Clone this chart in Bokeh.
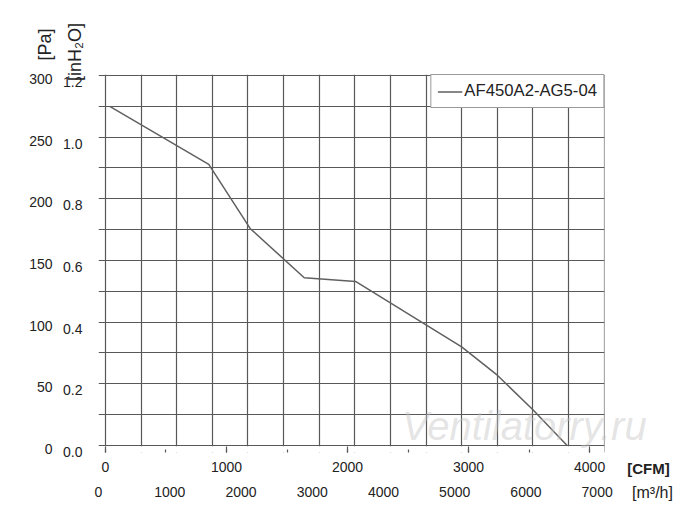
import math
from bokeh.plotting import figure
from bokeh.models import (Range1d, LinearAxis, FixedTicker, SingleIntervalTicker,
                          PrintfTickFormatter, Label, BoxAnnotation)
from bokeh.embed import file_html
from bokeh.resources import INLINE

# ---- data ----
flow_m3h = [60, 1450, 2030, 2790, 3510, 5000, 5500, 6000, 6480]
pressure_pa = [275, 228, 176, 136, 133, 80, 57, 29, 0]
series_name = "AF450A2-AG5-04"

pa_ticks = [0, 50, 100, 150, 200, 250, 300]
inh2o_ticks = [0.0, 0.2, 0.4, 0.6, 0.8, 1.0, 1.2]
cfm_ticks_interval = 1000
m3h_ticks_interval = 1000
M3H_PER_CFM = 1.699

FONT = "Liberation Sans"
TXT = "#222222"
GRID = "#585858"

p = figure(width=684, height=515,
           x_range=Range1d(-98, 7005), y_range=Range1d(-5.676, 300.81),
           output_backend="svg", toolbar_location=None,
           x_axis_location=None, y_axis_location=None,
           min_border_left=98, min_border_right=80,
           min_border_top=74, min_border_bottom=63)
p.outline_line_color = None
p.background_fill_color = "white"
p.border_fill_color = "white"

p.xgrid.ticker = SingleIntervalTicker(interval=500, num_minor_ticks=0)
p.ygrid.ticker = SingleIntervalTicker(interval=25, num_minor_ticks=0)
p.xgrid.grid_line_color = GRID
p.ygrid.grid_line_color = GRID
p.xgrid.grid_line_width = 1.2
p.ygrid.grid_line_width = 1.2

# hide the grid below the zero line (frame reaches down to the tick ends)
p.add_layout(BoxAnnotation(top=-0.6, fill_color="white", fill_alpha=1.0,
                           line_color=None, level="underlay"))

p.extra_y_ranges = {"inh2o": Range1d(-0.00162, 1.22433),
                    "pa_lab": Range1d(-2.838, 303.65)}
p.extra_x_ranges = {"cfm": Range1d(-98 / M3H_PER_CFM, 7005 / M3H_PER_CFM),
                    "m3h": Range1d(0, 7103)}


def style_labels_only(ax, standoff):
    ax.axis_line_color = None
    ax.major_tick_line_color = None
    ax.minor_tick_line_color = None
    ax.major_tick_out = 0
    ax.major_tick_in = 0
    ax.minor_tick_out = 0
    ax.minor_tick_in = 0
    ax.major_label_standoff = standoff
    ax.major_label_text_font = FONT
    ax.major_label_text_font_size = "14px"
    ax.major_label_text_color = TXT


ax_in = LinearAxis(y_range_name="inh2o", ticker=FixedTicker(ticks=inh2o_ticks),
                   formatter=PrintfTickFormatter(format="%.1f"))
style_labels_only(ax_in, 16)
p.add_layout(ax_in, "left")

ax_pa = LinearAxis(y_range_name="pa_lab", ticker=FixedTicker(ticks=pa_ticks))
style_labels_only(ax_pa, 8)
p.add_layout(ax_pa, "left")

ax_cfm = LinearAxis(x_range_name="cfm",
                    ticker=SingleIntervalTicker(interval=cfm_ticks_interval, num_minor_ticks=2))
ax_cfm.axis_line_color = None
ax_cfm.major_tick_line_color = GRID
ax_cfm.minor_tick_line_color = GRID
ax_cfm.major_tick_line_width = 1.2
ax_cfm.minor_tick_line_width = 1.2
ax_cfm.major_tick_out = 0
ax_cfm.major_tick_in = 6
ax_cfm.minor_tick_out = 0
ax_cfm.minor_tick_in = 3
ax_cfm.major_label_standoff = 9
ax_cfm.major_label_text_font = FONT
ax_cfm.major_label_text_font_size = "14px"
ax_cfm.major_label_text_color = TXT
p.add_layout(ax_cfm, "below")

ax_m3 = LinearAxis(x_range_name="m3h",
                   ticker=SingleIntervalTicker(interval=m3h_ticks_interval, num_minor_ticks=0))
style_labels_only(ax_m3, 12)
p.add_layout(ax_m3, "below")

# curve
p.line(flow_m3h, pressure_pa, line_color="#606060", line_width=1.5,
       legend_label=series_name)

lg = p.legend[0]
lg.location = "top_right"
lg.margin = 0
lg.padding = 6
lg.glyph_width = 25
lg.glyph_height = 11
lg.label_height = 11
lg.label_standoff = 2
lg.border_line_color = "#333333"
lg.border_line_width = 1.2
lg.background_fill_color = "white"
lg.background_fill_alpha = 1.0
lg.label_text_font = FONT
lg.label_text_font_size = "16.7px"
lg.label_text_color = TXT


# texts outside the frame live in side panels (not clipped there)
def lab(place, x, y, text, size, angle=0.0, style="normal", color=TXT,
        level="annotation", baseline="middle", alpha=1.0):
    p.add_layout(Label(x=x, y=y, text=text, angle=angle, text_font=FONT,
                       text_font_size=size, text_font_style=style, text_color=color,
                       text_alpha=alpha, text_align="center", text_baseline=baseline,
                       level=level), place)


lab("left", -856, 325.1, "[Pa]", "18px", angle=math.pi / 2)
lab("right", -421, 319.0, "[inH\u2082O]", "18px", angle=math.pi / 2)
lab("right", 7622, -18.65, "[CFM]", "15px", style="bold")
lab("above", 7679, -38.1, "[m\u00b3/h]", "16px")
# watermark, reaching past the frame as in the reference
lab("above", 5880, 16.2, "Ventilatorry.ru", "40px", style="italic",
    color="#c4c4c4", level="guide", baseline="alphabetic", alpha=0.45)

open("out.html", "w").write(file_html(p, INLINE))
